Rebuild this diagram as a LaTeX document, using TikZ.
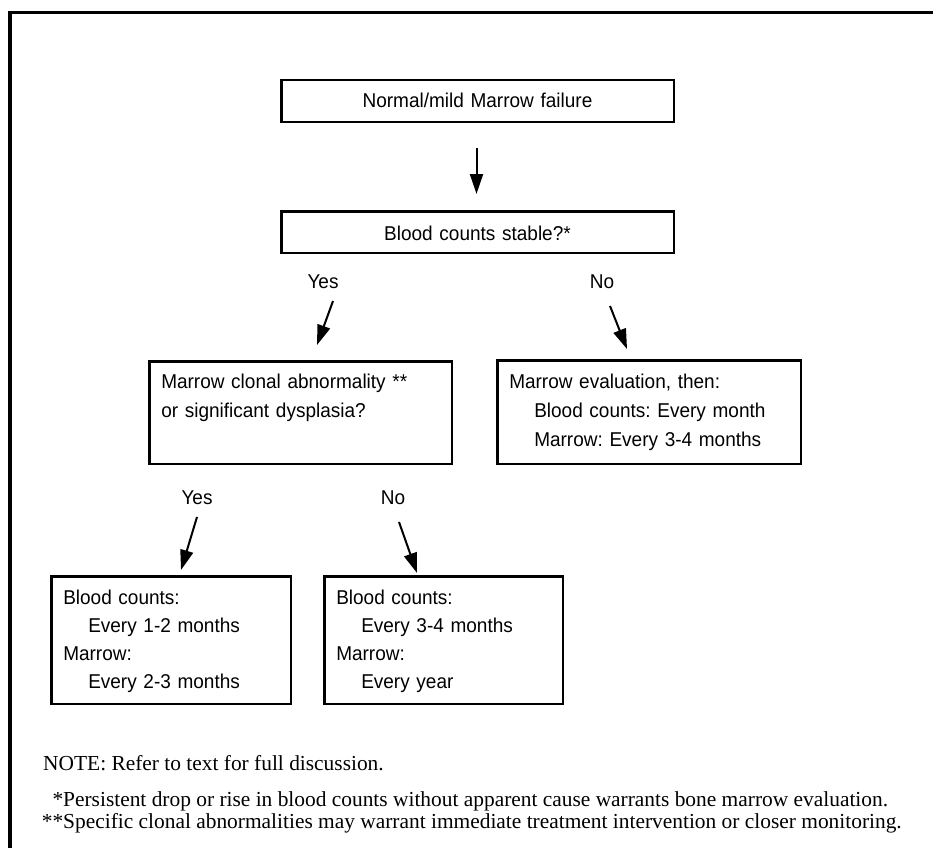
\documentclass[tikz,border=0pt]{standalone}
\usepackage{fontspec}
\setmainfont{Liberation Serif}
\newfontfamily\boxfont[FakeStretch=0.95]{Liberation Sans}
\usetikzlibrary{arrows.meta,positioning}
\newcommand{\indt}{\hspace*{25pt}}
\frenchspacing

\begin{document}
\begin{tikzpicture}[
    x=1pt, y=-1pt,
    every node/.style={font=\boxfont\fontsize{20}{29}\selectfont},
    flowbox/.style={draw, line width=2.5pt, anchor=north west,
                    inner xsep=12pt, inner ysep=0pt, align=left},
    ans/.style={anchor=base, inner sep=0pt},
    note/.style={anchor=base west, inner sep=0pt,
                 font=\rmfamily\fontsize{21.4}{22}\selectfont},
    arr/.style={-{Triangle[length=20pt, width=13pt]}, line width=2pt},
  ]
  \path[fill=white, use as bounding box] (0,0) rectangle (933,848);

  % Frame
  \draw[line width=3.5pt] (10,848) |- (933,12.5);

  % Boxes
  \node[flowbox, align=center, text width=368.5pt, text height=27.75pt,
        text depth=13.75pt] (init) at (280,79) {Normal/mild Marrow failure};
  \node[flowbox, align=center, text width=368.5pt, text height=28.75pt,
        text depth=12.75pt] (stable) at (280,210) {Blood counts stable?*};
  \node[flowbox, text width=278.5pt, text height=26.75pt,
        text depth=75.75pt] (clonal) at (148,360)
    {Marrow clonal abnormality **\\or significant dysplasia?};
  \node[flowbox, text width=279.5pt, text height=27.75pt,
        text depth=75.75pt] (evalbox) at (496,359)
    {Marrow evaluation, then:\\\indt Blood counts: Every month\\\indt Marrow: Every 3-4 months};
  \node[flowbox, text width=215.5pt, text height=27.75pt, text depth=99.75pt,
        font=\boxfont\fontsize{20}{28}\selectfont] (yesplan) at (50,575)
    {Blood counts:\\\indt Every 1-2 months\\Marrow:\\\indt Every 2-3 months};
  \node[flowbox, text width=214.5pt, text height=27.75pt, text depth=99.75pt,
        font=\boxfont\fontsize{20}{28}\selectfont] (noplan) at (323,575)
    {Blood counts:\\\indt Every 3-4 months\\Marrow:\\\indt Every year};

  % Answers
  \node[ans] (yesA) at (323,288) {Yes};
  \node[ans] (noA) at (602,288) {No};
  \node[ans] (yesB) at (197,504) {Yes};
  \node[ans] (noB) at (393,504) {No};

  % Arrows
  \draw[arr] ([shift={(-1,25)}]init.south) -- ([shift={(-1,-16)}]stable.north);
  \draw[arr] ([shift={(10,13)}]yesA.base) -- ([shift={(16.5,-15)}]clonal.north);
  \draw[arr] ([shift={(8,18)}]noA.base) -- ([shift={(-22,-10)}]evalbox.north);
  \draw[arr] ([shift={(0,13)}]yesB.base) -- ([shift={(10,-5)}]yesplan.north);
  \draw[arr] ([shift={(6,18)}]noB.base) -- ([shift={(-26.5,-2)}]noplan.north);

  % Notes
  \node[note] (note) at (43,770) {NOTE: Refer to text for full discussion.};
  \node[note] (fnA) at (63,806)
    {\llap{*}Persistent drop or rise in blood counts without apparent cause warrants bone marrow evaluation.};
  \node[note] (fnB) at (63,828)
    {\llap{**}Specific clonal abnormalities may warrant immediate treatment intervention or closer monitoring.};
\end{tikzpicture}
\end{document}
